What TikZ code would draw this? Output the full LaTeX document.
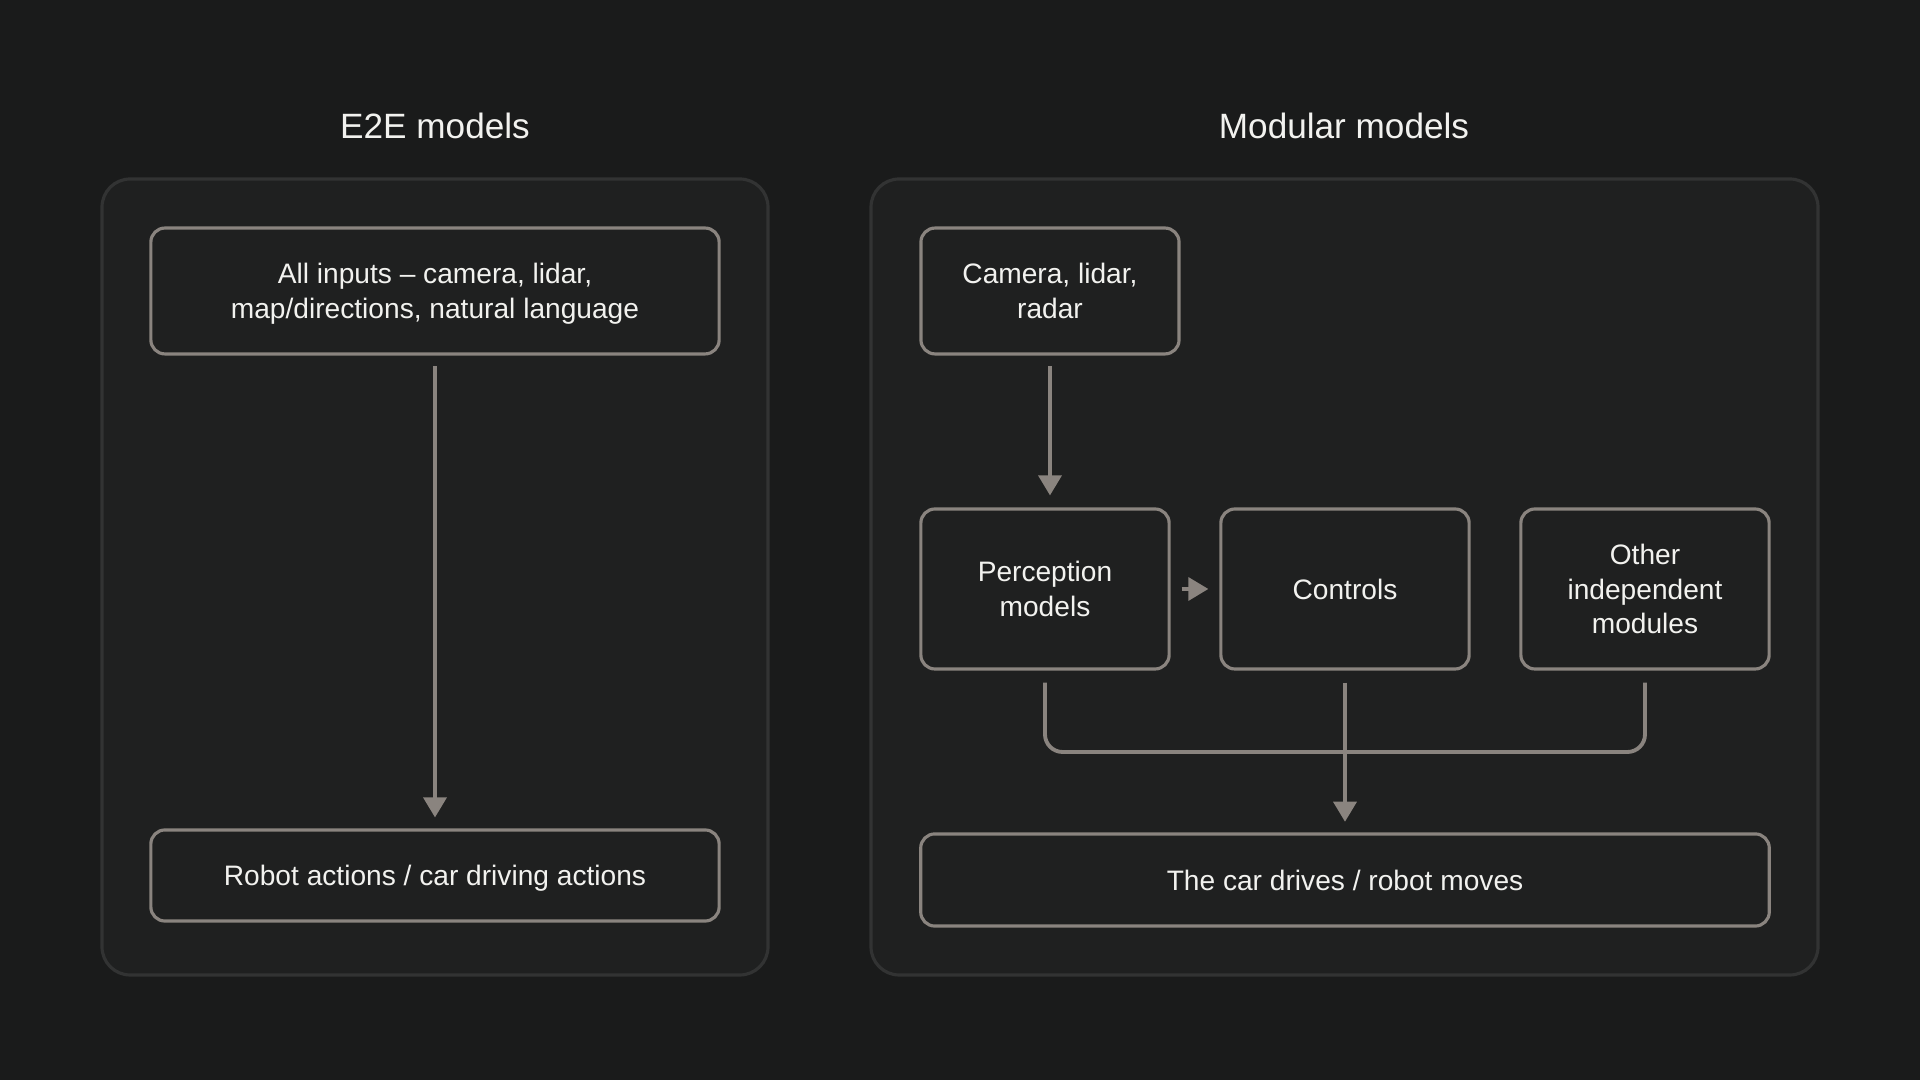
\documentclass[tikz,border=0pt]{standalone}
\usepackage{fontspec}
\setmainfont{Liberation Sans}
\usetikzlibrary{arrows.meta, positioning}

\definecolor{bgdark}{HTML}{1A1B1B}
\definecolor{panelfill}{HTML}{1F2020}
\definecolor{panelline}{HTML}{323333}
\definecolor{boxline}{HTML}{8A847F}
\definecolor{txtwhite}{HTML}{F2F2EF}

\begin{document}
\begin{tikzpicture}[
    x=0.01cm, y=-0.01cm,
    every node/.style={font=\fontsize{8}{9.8}\selectfont, text=txtwhite},
    panel/.style={draw=panelline, fill=panelfill, line width=0.9pt, rounded corners=8pt},
    block/.style={draw=boxline, line width=0.9pt, rounded corners=4pt, align=center,
        inner sep=0pt, text depth=0pt},
    heading/.style={font=\fontsize{10}{12}\selectfont},
    wire/.style={draw=boxline, line width=1.1pt},
    flow/.style={wire, -{Triangle[width=6.5pt, length=5.7pt]}},
]

% background and margins
\fill[bgdark] (0,0) rectangle (1920,1080);
\useasboundingbox (0,0) rectangle (1920,1080);

% =========================================================
% 1. E2E models
% =========================================================
\draw[panel] (102,179) rectangle (768,975);
\node[heading] (e2etitle) at (435,126) {E2E models};

\node[block, minimum width=161.6pt, minimum height=35.8pt] (allin) at (435,291)
    {All inputs -- camera, lidar,\\map/directions, natural language};
\node[block, minimum width=161.6pt, minimum height=25.9pt] (actions) at (435,875.5)
    {Robot actions / car driving actions};

% inputs -> actions
\draw[flow, shorten <=3.1pt, shorten >=3.1pt] (allin) -- (actions);

% =========================================================
% 2. Modular models
% =========================================================
\draw[panel] (871,179) rectangle (1818,975);
\node[heading] (modtitle) at (1344,126) {Modular models};

\node[block, minimum width=73.4pt, minimum height=35.8pt] (sensors) at (1050,291)
    {Camera, lidar,\\radar};

% Middle row of modules
\node[block, minimum width=70.6pt, minimum height=45.5pt] (percep) at (1045,589)
    {Perception\\models};
\node[block, minimum width=70.6pt, minimum height=45.5pt] (controls) at (1345,589)
    {Controls};
\node[block, minimum width=70.6pt, minimum height=45.5pt] (others) at (1645,589)
    {Other\\independent\\modules};

\node[block, minimum width=241.3pt, minimum height=26.2pt] (drives) at (1345,880)
    {The car drives / robot moves};

\coordinate (join) at (1345,752);

% sensors -> perception
\draw[flow, shorten <=3.1pt, shorten >=3.4pt] (sensors.south) -- (percep.north -| sensors);
% perception -> controls
\draw[flow, shorten <=3.1pt, shorten >=3.1pt] (percep) -- (controls);

% bracket collecting the modules
\draw[wire, rounded corners=5pt, shorten <=3.4pt, shorten >=3.4pt]
    (percep.south) |- (join) -| (others.south);
\draw[flow, shorten <=3.4pt, shorten >=3pt] (controls) -- (drives);

\end{tikzpicture}
\end{document}
